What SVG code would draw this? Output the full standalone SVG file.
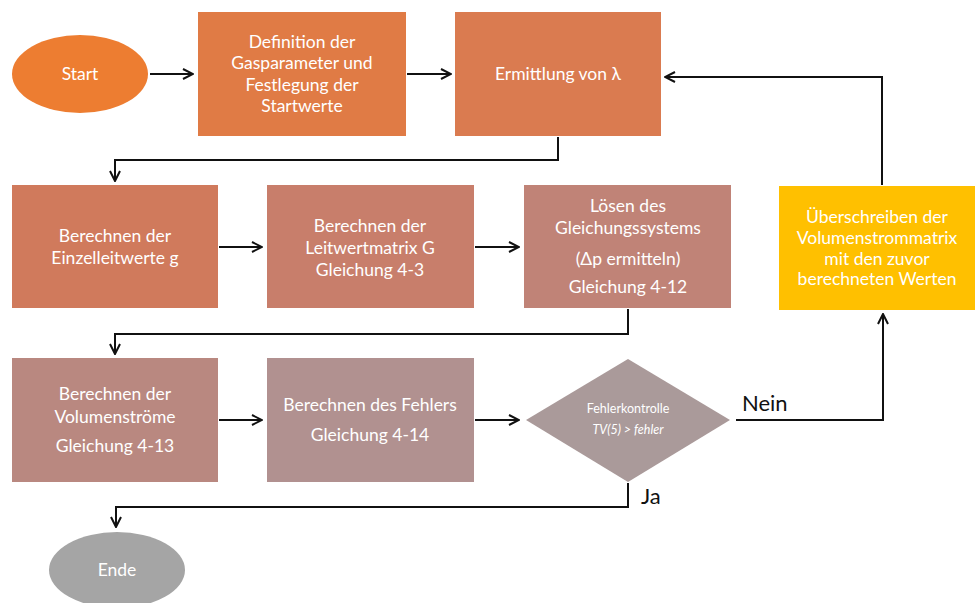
<svg xmlns="http://www.w3.org/2000/svg" width="975" height="603" viewBox="0 0 975 603">
  <style>
    .lbl { font-family: Lato, "Open Sans", "Liberation Sans", sans-serif; font-size: 17.5px; fill: #ffffff; text-anchor: middle; }
    .small { font-size: 12.5px; }
    .it { font-style: italic; }
    .ans { font-family: Lato, "Open Sans", "Liberation Sans", sans-serif; font-size: 22px; fill: #111111; }
    .conn { fill: none; stroke: #111111; stroke-width: 2; }
  </style>
  <defs>
    <marker id="arr" viewBox="0 0 12 12" refX="11" refY="6" markerWidth="12" markerHeight="12" markerUnits="userSpaceOnUse" orient="auto">
      <polyline points="1,1 11,6 1,11" fill="none" stroke="#111111" stroke-width="2"/>
    </marker>
  </defs>
  <rect width="975" height="603" fill="#ffffff"/>

  <g id="start">
    <ellipse cx="80" cy="74" rx="68" ry="39" fill="#ED7D31"/>
    <text class="lbl" x="80" y="80">Start</text>
  </g>
  <g id="definition">
    <rect x="198" y="12" width="208" height="124" fill="#E07B45"/>
    <text class="lbl" x="302" y="48">Definition der</text>
    <text class="lbl" x="302" y="69">Gasparameter und</text>
    <text class="lbl" x="302" y="91">Festlegung der</text>
    <text class="lbl" x="302" y="112">Startwerte</text>
  </g>
  <g id="lambda">
    <rect x="455" y="12" width="206" height="124" fill="#DA7B50"/>
    <text class="lbl" x="558" y="80">Ermittlung von λ</text>
  </g>
  <g id="einzelleitwerte">
    <rect x="12" y="185" width="206" height="123" fill="#D07A5C"/>
    <text class="lbl" x="115" y="242">Berechnen der</text>
    <text class="lbl" x="115" y="264">Einzelleitwerte g</text>
  </g>
  <g id="leitwertmatrix">
    <rect x="267" y="185" width="207" height="123" fill="#C87E6B"/>
    <text class="lbl" x="370" y="232">Berechnen der</text>
    <text class="lbl" x="370" y="254">Leitwertmatrix G</text>
    <text class="lbl" x="370" y="276">Gleichung 4-3</text>
  </g>
  <g id="gleichungssystem">
    <rect x="524" y="185" width="207" height="123" fill="#C08377"/>
    <text class="lbl" x="628" y="212">Lösen des</text>
    <text class="lbl" x="628" y="234">Gleichungssystems</text>
    <text class="lbl" x="628" y="265">(Δp ermitteln)</text>
    <text class="lbl" x="628" y="293">Gleichung 4-12</text>
  </g>
  <g id="ueberschreiben">
    <rect x="779" y="186" width="196" height="124" fill="#FFC000"/>
    <text class="lbl" x="877" y="223">Überschreiben der</text>
    <text class="lbl" x="877" y="244">Volumenstrommatrix</text>
    <text class="lbl" x="877" y="265">mit den zuvor</text>
    <text class="lbl" x="877" y="285">berechneten Werten</text>
  </g>
  <g id="volumenstroeme">
    <rect x="12" y="358" width="206" height="124" fill="#B98880"/>
    <text class="lbl" x="115" y="400">Berechnen der</text>
    <text class="lbl" x="115" y="423">Volumenströme</text>
    <text class="lbl" x="115" y="452">Gleichung 4-13</text>
  </g>
  <g id="fehler">
    <rect x="267" y="358" width="207" height="124" fill="#B19190"/>
    <text class="lbl" x="370" y="411">Berechnen des Fehlers</text>
    <text class="lbl" x="370" y="441">Gleichung 4-14</text>
  </g>
  <g id="fehlerkontrolle">
    <polygon points="628,359 730,420 628,482 526,420" fill="#AA9A9A"/>
    <text class="lbl small" x="628" y="413">Fehlerkontrolle</text>
    <text class="lbl small it" x="628" y="434">TV(5) &gt; fehler</text>
  </g>
  <g id="ende">
    <ellipse cx="117" cy="570" rx="68" ry="38" fill="#A5A5A5"/>
    <text class="lbl" x="117" y="576">Ende</text>
  </g>

  <g id="connectors">
    <line class="conn" x1="150" y1="74" x2="193" y2="74" marker-end="url(#arr)"/>
    <line class="conn" x1="407" y1="74" x2="451" y2="74" marker-end="url(#arr)"/>
    <polyline class="conn" points="558,137 558,160 115,160 115,181" marker-end="url(#arr)"/>
    <line class="conn" x1="219" y1="247" x2="262" y2="247" marker-end="url(#arr)"/>
    <line class="conn" x1="475" y1="247" x2="519" y2="247" marker-end="url(#arr)"/>
    <polyline class="conn" points="628,309 628,334 115,334 115,354" marker-end="url(#arr)"/>
    <line class="conn" x1="219" y1="420" x2="262" y2="420" marker-end="url(#arr)"/>
    <line class="conn" x1="475" y1="420" x2="519" y2="420" marker-end="url(#arr)"/>
    <polyline class="conn" points="736,420 883,420 883,314" marker-end="url(#arr)"/>
    <polyline class="conn" points="882,185 882,77 665,77" marker-end="url(#arr)"/>
    <polyline class="conn" points="628,483 628,507 116,507 116,527" marker-end="url(#arr)"/>
    <text class="ans" x="742" y="411">Nein</text>
    <text class="ans" x="641" y="504">Ja</text>
  </g>
</svg>
